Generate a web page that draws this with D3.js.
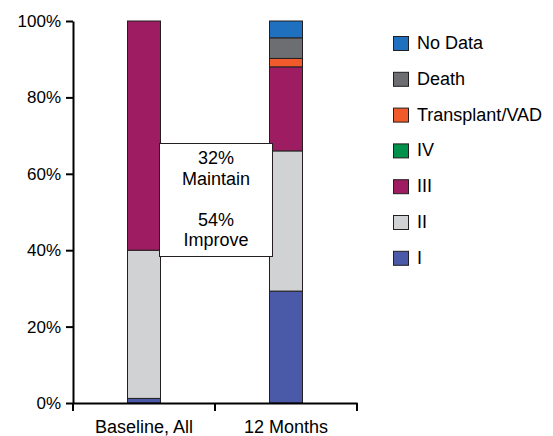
<!DOCTYPE html>
<html><head><meta charset="utf-8">
<script src="https://cdn.jsdelivr.net/npm/d3@7"></script>
<style>body{margin:0;background:#fff}svg{font-family:"Liberation Sans",Arial,sans-serif}</style>
</head><body><svg id="c" width="553" height="436"></svg>
<script>
const categories = ["Baseline, All", "12 Months"];
const seriesNames = ["I", "II", "III", "IV", "Transplant/VAD", "Death", "No Data"];
const seriesColors = ["#4a5aa8", "#d1d2d4", "#9e1d62", "#00924a", "#f15a2b", "#6d6e71", "#1f70bf"];
const valI = [1.2, 29.3];
const valII = [38.8, 36.7];
const valIII = [60.0, 22.0];
const valIV = [0, 0];
const valTransplant = [0, 2.2];
const valDeath = [0, 5.4];
const valNoData = [0, 4.4];
const yTicks = [0, 20, 40, 60, 80, 100];
const noteLines = ["32%", "Maintain", "", "54%", "Improve"];

const seriesVals = [valI, valII, valIII, valIV, valTransplant, valDeath, valNoData];
const table = categories.map((c, i) => {
  const o = {cat: c};
  seriesNames.forEach((s, j) => o[s] = seriesVals[j][i]);
  return o;
});
const stack = d3.stack().keys(seriesNames)(table);

const svg = d3.select("#c");
const x = d3.scaleBand().domain(categories).range([73, 357]).paddingInner(0).paddingOuter(0);
const y = d3.scaleLinear().domain([0, 100]).range([403, 21]);
const barW = 33;
const FF = "Liberation Sans, Arial, sans-serif";

const g = svg.append("g");
stack.forEach((layer, j) => {
  g.selectAll(null).data(layer.filter(d => d[1] - d[0] > 0)).enter().append("rect")
    .attr("x", d => x(d.data.cat) + x.bandwidth() / 2 - barW / 2)
    .attr("width", barW)
    .attr("y", d => y(d[1]))
    .attr("height", d => y(d[0]) - y(d[1]))
    .attr("fill", seriesColors[j])
    .attr("stroke", "#231f20").attr("stroke-width", 1);
});

// y axis
const ya = svg.append("g").attr("transform", "translate(73,0)")
  .call(d3.axisLeft(y).tickValues(yTicks).tickFormat(d => d + "%").tickSize(7).tickSizeOuter(0));
ya.select(".domain").attr("stroke", "#000").attr("stroke-width", 2);
ya.selectAll(".tick line").attr("stroke", "#000").attr("stroke-width", 2);
ya.selectAll("text").attr("font-size", 17).attr("fill", "#000").attr("font-family", FF).attr("x", -12);

// x axis
const xa = svg.append("g").attr("transform", "translate(0,403)")
  .call(d3.axisBottom(x).tickSize(0).tickSizeOuter(0));
xa.select(".domain").attr("stroke", "#000").attr("stroke-width", 2);
xa.selectAll("text").attr("font-size", 18).attr("fill", "#000").attr("font-family", FF).attr("dy", "0").attr("y", 30);
// tick marks between categories
const bounds = [x.range()[0], x(categories[1]), x.range()[1]];
svg.selectAll(null).data(bounds).enter().append("line")
  .attr("x1", d => d).attr("x2", d => d).attr("y1", 403).attr("y2", 411)
  .attr("stroke", "#000").attr("stroke-width", 2);

// annotation box
svg.append("rect").attr("x", 159.5).attr("y", 143.5).attr("width", 113).attr("height", 113)
  .attr("fill", "#fff").attr("stroke", "#231f20").attr("stroke-width", 1);
svg.append("g").selectAll("text").data(noteLines).enter().append("text")
  .attr("x", 216).attr("y", (d, i) => 164 + i * 20.5)
  .attr("text-anchor", "middle").attr("font-size", 18).attr("fill", "#000").attr("font-family", FF).text(d => d);

// legend
const legOrder = seriesNames.map((s, j) => ({s, c: seriesColors[j]})).reverse();
const lg = svg.append("g").selectAll("g").data(legOrder).enter().append("g")
  .attr("transform", (d, i) => `translate(393.5,${36.5 + i * 35.8})`);
lg.append("rect").attr("width", 15).attr("height", 14).attr("fill", d => d.c)
  .attr("stroke", "#231f20").attr("stroke-width", 1);
lg.append("text").attr("x", 23.5).attr("y", 12.5).attr("font-size", 18).attr("fill", "#000").attr("font-family", FF).text(d => d.s);
</script></body></html>
